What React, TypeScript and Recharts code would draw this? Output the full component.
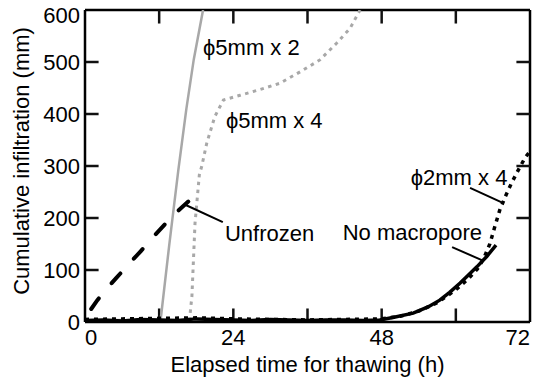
import React from 'react';
import { LineChart, Line, XAxis, YAxis, ReferenceLine, ReferenceDot, Label } from 'recharts';

const FONT = '"Liberation Sans", Arial, Helvetica, sans-serif';

// Unfrozen (black dashed)
const unfrozenTime = [1, 2, 3, 5, 7, 9, 11, 13, 15, 17.2];
const unfrozenValue = [25, 42, 57, 84, 110, 136, 163, 189, 213, 237];

// phi5mm x 2 (grey solid)
const p5x2Time = [0, 6, 12.2, 13.6, 15.1, 16.4, 17.6, 19.1];
const p5x2Value = [3, 4, 0, 145, 292, 410, 505, 600];

// phi5mm x 4 (grey dotted)
const p5x4Time = [0, 8, 16.9, 17.3, 17.8, 18.5, 18.9, 19.7, 21.0, 22.4, 25.1, 28.3, 31.5, 34.8, 38.0, 40.7, 42.9, 44.5];
const p5x4Value = [3, 3, 3, 50, 190, 283, 300, 344, 395, 427, 436, 447, 459, 481, 504, 536, 565, 600];

// phi2mm x 4 (black dotted)
const p2x4Time = [0, 6, 12, 18, 24, 30, 36, 42, 48, 51, 54, 57, 60, 62, 63.5, 64.5, 65.5, 66.3, 67.1, 68, 69, 70.1, 71.2, 72];
const p2x4Value = [5, 6, 7, 8, 6, 5, 4, 5, 6, 11, 21, 37, 62, 83, 102, 122, 150, 183, 215, 241, 267, 292, 316, 328];

// No macropore (black solid)
const noMacroTime = [0, 3, 6, 9, 12, 15, 18, 21, 24, 27, 30, 33, 36, 39, 42, 45, 47.7, 50, 53.1, 55.5, 57.4, 59, 60.7, 62, 63.4, 65, 66.5];
const noMacroValue = [3, 4, 2, 5, 4, 3, 6, 5, 4, 3, 5, 4, 3, 4, 4, 3, 4, 9, 17, 29, 42, 57, 75, 90, 106, 126, 148];

const xTicks = [0, 12, 24, 36, 48, 60, 72];
const yTicks = [0, 100, 200, 300, 400, 500, 600];
const X_MIN = 0;
const X_MAX = 72;
const Y_MIN = 0;
const Y_MAX = 600;

const xTitle = 'Elapsed time for thawing (h)';
const yTitle = 'Cumulative infiltration (mm)';

// annotation labels (anchor in data coords: baseline-left)
const annotations = [
  { text: 'ϕ5mm x 2', t: 19.1, v: 513 },
  { text: 'ϕ5mm x 4', t: 22.8, v: 373 },
  { text: 'Unfrozen', t: 22.65, v: 156 },
  { text: 'No macropore', t: 41.7, v: 158 },
  { text: 'ϕ2mm x 4', t: 52.7, v: 264 },
];
const leaders = [
  { t1: 16.3, v1: 225, t2: 22.3, v2: 192 },
  { t1: 59.4, v1: 144, t2: 64.2, v2: 119 },
  { t1: 62.3, v1: 258, t2: 67.6, v2: 229 },
];

// inward tick lengths expressed in data units (≈13 px)
const X_TICK_LEN = 26; // mm, for ticks on the horizontal axes
const Y_TICK_LEN = 2.2; // h, for ticks on the vertical axes

const zip = (ts: number[], vs: number[]) => ts.map((t, i) => ({ t, v: vs[i] }));

const unfrozenData = zip(unfrozenTime, unfrozenValue);
const p5x2Data = zip(p5x2Time, p5x2Value);
const p5x4Data = zip(p5x4Time, p5x4Value);
const p2x4Data = zip(p2x4Time, p2x4Value);
const noMacroData = zip(noMacroTime, noMacroValue);

const FS = 22;
const axisLineStyle = { stroke: '#000', strokeWidth: 2.5 };
const TICK_COLOR = '#111111';
const TICK_W = 2.5;

const XTick = (props: any) => {
  const { x, y, payload } = props;
  const val = payload.value;
  if (val % 24 !== 0) return <g />;
  let anchor: 'middle' | 'start' | 'end' = 'middle';
  if (val === X_MIN) anchor = 'start';
  if (val === X_MAX) anchor = 'end';
  return (
    <text x={x} y={y + 23} textAnchor={anchor} fontSize={FS} fontFamily={FONT} fill="#000">
      {val}
    </text>
  );
};

const YTick = (props: any) => {
  const { x, y, payload } = props;
  const val = payload.value;
  const dy = val === Y_MAX ? 13 : 7.5;
  return (
    <text x={x - 5} y={y + dy} textAnchor="end" fontSize={FS} fontFamily={FONT} fill="#000">
      {val}
    </text>
  );
};

const XTitle = (props: any) => {
  const vb = props.viewBox || {};
  return (
    <text x={vb.x + vb.width / 2} y={vb.y + 50} textAnchor="middle" fontSize={FS} fontFamily={FONT} fill="#000">
      {xTitle}
    </text>
  );
};

const YTitle = (props: any) => {
  const vb = props.viewBox || {};
  const cx = 29;
  const cy = vb.y + vb.height / 2 - 5;
  return (
    <text x={cx} y={cy} transform={`rotate(-90 ${cx} ${cy})`} textAnchor="middle" fontSize={FS} fontFamily={FONT} fill="#000">
      {yTitle}
    </text>
  );
};

const innerX = xTicks.filter((t) => t !== X_MIN && t !== X_MAX);
const innerY = yTicks.filter((t) => t !== Y_MIN && t !== Y_MAX);

export default function App() {
  return (
    <div style={{ position: 'absolute', left: 0, top: 0, width: 533, height: 381, background: '#fff' }}>
      <LineChart width={533} height={381} margin={{ top: 10, right: 3, bottom: 0, left: 0 }}>
        <XAxis
          dataKey="t"
          type="number"
          domain={[X_MIN, X_MAX]}
          ticks={xTicks}
          interval={0}
          allowDataOverflow
          height={59}
          tickSize={0}
          tickMargin={0}
          tickLine={false}
          axisLine={axisLineStyle}
          tick={<XTick />}
        >
          <Label content={<XTitle />} />
        </XAxis>
        <YAxis
          dataKey="v"
          type="number"
          domain={[Y_MIN, Y_MAX]}
          ticks={yTicks}
          interval={0}
          allowDataOverflow
          width={85}
          tickSize={0}
          tickMargin={0}
          tickLine={false}
          axisLine={axisLineStyle}
          tick={<YTick />}
        >
          <Label content={<YTitle />} />
        </YAxis>
        <ReferenceLine y={Y_MAX} ifOverflow="visible" stroke="#000" strokeWidth={2.5} />
        <ReferenceLine x={X_MAX} ifOverflow="visible" stroke="#000" strokeWidth={2.5} />

        {innerX.map((t) => (
          <ReferenceLine key={`xb${t}`} ifOverflow="visible" segment={[{ x: t, y: Y_MIN }, { x: t, y: Y_MIN + X_TICK_LEN }]} stroke={TICK_COLOR} strokeWidth={TICK_W} />
        ))}
        {innerX.map((t) => (
          <ReferenceLine key={`xt${t}`} ifOverflow="visible" segment={[{ x: t, y: Y_MAX }, { x: t, y: Y_MAX - X_TICK_LEN }]} stroke={TICK_COLOR} strokeWidth={TICK_W} />
        ))}
        {innerY.map((v) => (
          <ReferenceLine key={`yl${v}`} ifOverflow="visible" segment={[{ x: X_MIN, y: v }, { x: X_MIN + Y_TICK_LEN, y: v }]} stroke={TICK_COLOR} strokeWidth={TICK_W} />
        ))}
        {innerY.map((v) => (
          <ReferenceLine key={`yr${v}`} ifOverflow="visible" segment={[{ x: X_MAX, y: v }, { x: X_MAX - Y_TICK_LEN, y: v }]} stroke={TICK_COLOR} strokeWidth={TICK_W} />
        ))}

        <Line data={p5x2Data} dataKey="v" type="linear" stroke="#a8a8a8" strokeWidth={2.5} dot={false} activeDot={false} isAnimationActive={false} />
        <Line data={p5x4Data} dataKey="v" type="linear" stroke="#a8a8a8" strokeWidth={3} strokeDasharray="3.5 4.5" dot={false} activeDot={false} isAnimationActive={false} />
        <Line data={unfrozenData} dataKey="v" type="linear" stroke="#000" strokeWidth={4} strokeDasharray="13 20" strokeLinecap="round" dot={false} activeDot={false} isAnimationActive={false} />
        <Line data={p2x4Data} dataKey="v" type="linear" stroke="#000" strokeWidth={3.5} strokeDasharray="4 5" dot={false} activeDot={false} isAnimationActive={false} />
        <Line data={noMacroData} dataKey="v" type="linear" stroke="#000" strokeWidth={3.5} dot={false} activeDot={false} isAnimationActive={false} />

        {leaders.map((l, i) => (
          <ReferenceLine key={`l${i}`} segment={[{ x: l.t1, y: l.v1 }, { x: l.t2, y: l.v2 }]} stroke="#000" strokeWidth={2} />
        ))}
        {annotations.map((a, i) => (
          <ReferenceDot
            key={`a${i}`}
            x={a.t}
            y={a.v}
            r={0}
            shape={(p: any) => (
              <text x={p.cx} y={p.cy} fontSize={FS} fontFamily={FONT} fill="#000">
                {a.text}
              </text>
            )}
          />
        ))}
      </LineChart>
    </div>
  );
}
